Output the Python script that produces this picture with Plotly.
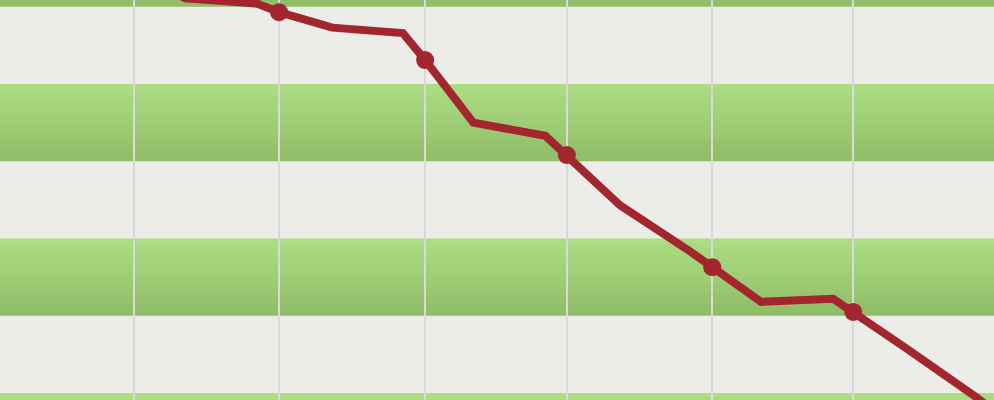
import plotly.graph_objects as go

# series (x in grid units, y in band units)
x_vals = [1.0, 1.36, 1.86, 2.01, 2.38, 2.87, 3.025, 3.36, 3.86, 4.01,
          4.38, 4.87, 5.02, 5.36, 5.86, 6.0, 6.36, 6.86, 7.0]
y_vals = [5.41, 5.11, 5.04, 4.93, 4.73, 4.66, 4.31, 3.50, 3.33, 3.08,
          2.43, 1.83, 1.63, 1.18, 1.22, 1.05, 0.59, -0.06, -0.27]
marked = [1.0, 2.01, 3.025, 4.01, 5.02, 6.0, 7.0]

green_bands = [-1, 1, 3, 5]

LINHA = "#a3262e"
CINZA = "#ecece9"
VERDE_TOPO = (172, 221, 130)
VERDE_BASE = (143, 189, 104)


def faixas_gradiente(inicio, fatias=24):
    shapes = []
    h = 1.0 / fatias
    for i in range(fatias):
        t = i / (fatias - 1)
        r, g, b = [round(VERDE_TOPO[k] + (VERDE_BASE[k] - VERDE_TOPO[k]) * t) for k in range(3)]
        y1 = inicio + 1 - i * h
        y0 = y1 - h - (0.025 if i < fatias - 1 else 0)
        shapes.append(dict(
            type="rect", xref="paper", yref="y", x0=0, x1=1,
            y0=y0, y1=y1, line=dict(width=0),
            fillcolor=f"rgb({r},{g},{b})", layer="below",
        ))
    return shapes


shapes = []
for b in green_bands:
    shapes += faixas_gradiente(b)

mx = [x for x in x_vals if x in marked]
my = [y for x, y in zip(x_vals, y_vals) if x in marked]

fig = go.Figure()
fig.add_trace(go.Scatter(
    x=x_vals, y=y_vals, mode="lines",
    line=dict(color=LINHA, width=8),
    hoverinfo="skip",
))
fig.add_trace(go.Scatter(
    x=mx, y=my, mode="markers",
    marker=dict(color=LINHA, size=18),
))

fig.update_layout(
    width=994, height=400,
    margin=dict(l=0, r=0, t=0, b=0),
    plot_bgcolor=CINZA, paper_bgcolor=CINZA,
    showlegend=False,
    shapes=shapes,
    xaxis=dict(range=[0.071, 6.978], tickmode="array", tickvals=marked,
               showgrid=True, gridcolor="#d9d9d9", gridwidth=2,
               showticklabels=False, zeroline=False, ticks=""),
    yaxis=dict(range=[-0.09, 5.088], showgrid=False,
               showticklabels=False, zeroline=False, ticks=""),
)

fig.write_html("out.html", config={"displayModeBar": False},
               post_script="document.body.style.margin='0';")
